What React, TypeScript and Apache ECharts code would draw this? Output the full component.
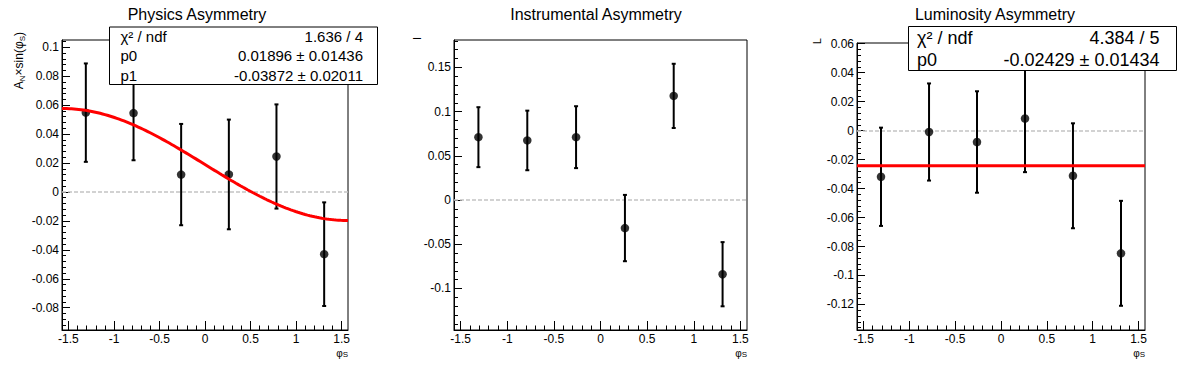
import React, { useEffect, useRef } from "react";
import * as echarts from "echarts";

const FONT = "'Liberation Sans', Arial, Helvetica, sans-serif";
const HALF_PI = Math.PI / 2;

// bin centres in phi_S
const phiCenters = [-1.309, -0.785, -0.262, 0.262, 0.785, 1.309];

// Physics asymmetry
const physicsY = [0.0548, 0.0545, 0.012, 0.0121, 0.0245, -0.043];
const physicsErr = [0.034, 0.0326, 0.035, 0.0379, 0.036, 0.0358];
// Instrumental asymmetry
const instrY = [0.0711, 0.0674, 0.0711, -0.0317, 0.1178, -0.0839];
const instrErr = [0.0339, 0.0337, 0.035, 0.0375, 0.0363, 0.0363];
// Luminosity asymmetry
const lumiY = [-0.0319, -0.001, -0.0079, 0.0083, -0.0312, -0.0847];
const lumiErr = [0.0339, 0.0335, 0.035, 0.037, 0.0362, 0.0362];

// fit parameters (from the stat boxes)
const physicsP0 = 0.01896;
const physicsP1 = -0.03872;
const lumiP0 = -0.02429;

// tick labels
const xTicks = [-1.5, -1, -0.5, 0, 0.5, 1, 1.5];
const physicsYTicks = [-0.08, -0.06, -0.04, -0.02, 0, 0.02, 0.04, 0.06, 0.08, 0.1];
const instrYTicks = [-0.1, -0.05, 0, 0.05, 0.1, 0.15];
const lumiYTicks = [-0.12, -0.1, -0.08, -0.06, -0.04, -0.02, 0, 0.02, 0.04, 0.06];

// axis ranges
const physicsRange = [-0.0954, 0.105];
const instrRange = [-0.147, 0.181];
const lumiRange = [-0.1376, 0.0604];

function minors(majors: number[], n: number, lo: number, hi: number): number[] {
  const step = (majors[1] - majors[0]) / n;
  const out: number[] = [];
  for (let k = -200; k <= 400; k++) {
    if (k % n === 0) continue;
    const v = Math.round((majors[0] + k * step) * 1e9) / 1e9;
    if (v > lo && v < hi) out.push(v);
  }
  return out;
}

const grids = [
  { left: 62, top: 40, width: 286, height: 290 },
  { left: 454, top: 40, width: 293, height: 290 },
  { left: 857, top: 43, width: 288, height: 287 },
];

function buildOption() {
  const xAxis: any[] = [];
  const yAxis: any[] = [];
  const series: any[] = [];
  const panels = [
    { y: physicsY, e: physicsErr, range: physicsRange, ticks: physicsYTicks },
    { y: instrY, e: instrErr, range: instrRange, ticks: instrYTicks },
    { y: lumiY, e: lumiErr, range: lumiRange, ticks: lumiYTicks },
  ];
  const xMinor = minors(xTicks, 5, -HALF_PI, HALF_PI);

  panels.forEach((p, i) => {
    const yMinor = minors(p.ticks, 5, p.range[0], p.range[1]);
    xAxis.push({
      type: "value", gridIndex: i, position: "bottom", min: -HALF_PI, max: HALF_PI,
      axisLine: { show: true, onZero: false, lineStyle: { color: "#000", width: 1 } },
      axisTick: { show: true, inside: true, length: 9, customValues: xTicks, lineStyle: { color: "#000", width: 1 } },
      axisLabel: { show: true, customValues: xTicks, margin: 3, color: "#000", fontSize: 12, fontFamily: FONT },
      splitLine: { show: false },
    });
    xAxis.push({
      type: "value", gridIndex: i, position: "bottom", min: -HALF_PI, max: HALF_PI,
      axisLine: { show: false, onZero: false },
      axisTick: { show: true, inside: true, length: 4.5, customValues: xMinor, lineStyle: { color: "#000", width: 1 } },
      axisLabel: { show: false },
      splitLine: { show: false },
    });
    yAxis.push({
      type: "value", gridIndex: i, position: "left", min: p.range[0], max: p.range[1],
      axisLine: { show: true, onZero: false, lineStyle: { color: "#000", width: 1 } },
      axisTick: { show: true, inside: true, length: 8, customValues: p.ticks, lineStyle: { color: "#000", width: 1 } },
      axisLabel: { show: true, customValues: p.ticks, margin: 3, color: "#000", fontSize: 12, fontFamily: FONT },
      splitLine: { show: false },
    });
    yAxis.push({
      type: "value", gridIndex: i, position: "left", min: p.range[0], max: p.range[1],
      axisLine: { show: false, onZero: false },
      axisTick: { show: true, inside: true, length: 4, customValues: yMinor, lineStyle: { color: "#000", width: 1 } },
      axisLabel: { show: false },
      splitLine: { show: false },
    });

    const errData = phiCenters.map((x, k) => [x, p.y[k] - p.e[k], p.y[k] + p.e[k]]);
    series.push({
      type: "custom",
      xAxisIndex: 2 * i, yAxisIndex: 2 * i,
      z: 3,
      encode: { x: 0, y: [1, 2] },
      data: errData,
      renderItem: (params: any, api: any) => {
        const x = api.value(0);
        const lo = api.coord([x, api.value(1)]);
        const hi = api.coord([x, api.value(2)]);
        const cw = 2;
        const st = { stroke: "#000", lineWidth: 2 };
        return {
          type: "group",
          children: [
            { type: "line", shape: { x1: lo[0], y1: lo[1], x2: hi[0], y2: hi[1] }, style: st },
            { type: "line", shape: { x1: lo[0] - cw, y1: lo[1], x2: lo[0] + cw, y2: lo[1] }, style: st },
            { type: "line", shape: { x1: hi[0] - cw, y1: hi[1], x2: hi[0] + cw, y2: hi[1] }, style: st },
          ],
        };
      },
      markLine: {
        silent: true,
        symbol: ["none", "none"],
        label: { show: false },
        lineStyle: { color: "#c4c4c4", width: 1.5, type: [4, 2] },
        data: [{ yAxis: 0 }],
        z: 1,
      },
    });
    series.push({
      type: "scatter",
      xAxisIndex: 2 * i, yAxisIndex: 2 * i,
      z: 4,
      symbol: "circle",
      symbolSize: 8.5,
      itemStyle: { color: "#000" },
      data: phiCenters.map((x, k) => [x, p.y[k]]),
    });
  });

  // fit curves
  const nS = 120;
  const curve: number[][] = [];
  for (let k = 0; k <= nS; k++) {
    const x = -HALF_PI + (Math.PI * k) / nS;
    curve.push([x, physicsP0 + physicsP1 * Math.sin(x)]);
  }
  series.push({
    type: "line", xAxisIndex: 0, yAxisIndex: 0, z: 5, showSymbol: false, symbol: "none",
    lineStyle: { color: "#ff0000", width: 3 }, data: curve,
  });
  series.push({
    type: "line", xAxisIndex: 4, yAxisIndex: 4, z: 5, showSymbol: false, symbol: "none",
    lineStyle: { color: "#ff0000", width: 3 }, data: [[-HALF_PI, lumiP0], [HALF_PI, lumiP0]],
  });

  const txt = (text: string, x: number, y: number, size: number, align = "left", extra: any = {}) => ({
    type: "text", z: 100,
    style: {
      text, x, y, fill: "#000", fontSize: size, fontFamily: FONT,
      align, textAlign: align, verticalAlign: "middle", textVerticalAlign: "middle", ...extra,
    },
  });

  const subRich = (size: number, subSize: number, lh: number) => ({
    m: { fontSize: size, fontFamily: FONT, fill: "#000", color: "#000", lineHeight: lh },
    s: { fontSize: subSize, fontFamily: FONT, fill: "#000", color: "#000", verticalAlign: "bottom", lineHeight: subSize },
  });

  const graphic: any[] = [
    txt("Physics Asymmetry", 197, 14.5, 16, "center"),
    txt("Instrumental Asymmetry", 596, 14.5, 16, "center"),
    txt("Luminosity Asymmetry", 995, 14.5, 16, "center"),
    // stat box 1
    { type: "rect", z: 99, shape: { x: 109.5, y: 27, width: 268, height: 57.5 }, style: { fill: "#fff", stroke: "#000", lineWidth: 1 } },
    txt("χ² / ndf", 120.5, 36.6, 15),
    txt("1.636 / 4", 363, 36.6, 15, "right"),
    txt("p0", 120.5, 55.8, 15),
    txt("0.01896 ± 0.01436", 363, 55.8, 15, "right"),
    txt("p1", 120.5, 75, 15),
    txt("-0.03872 ± 0.02011", 363, 75, 15, "right"),
    // stat box 3
    { type: "rect", z: 99, shape: { x: 908.5, y: 26.5, width: 268, height: 44 }, style: { fill: "#fff", stroke: "#000", lineWidth: 1 } },
    txt("χ² / ndf", 917, 37.5, 18),
    txt("4.384 / 5", 1159.5, 37.5, 18, "right"),
    txt("p0", 917, 59.5, 18),
    txt("-0.02429 ± 0.01434", 1159.5, 59.5, 18, "right"),
    // y axis titles
    {
      type: "text", z: 100, x: 18.5, y: 32, rotation: Math.PI / 2,
      style: { text: "{m|A}{s|N}{m|×sin(φ}{s|S}{m|)}", x: 0, y: 0, align: "right", textAlign: "right", verticalAlign: "middle", textVerticalAlign: "middle", rich: subRich(12, 8, 15) },
    },
    {
      type: "text", z: 100, x: 417, y: 37, rotation: Math.PI / 2,
      style: { text: "I", x: 0, y: 0, fill: "#000", fontSize: 11, fontFamily: FONT, align: "right", textAlign: "right", verticalAlign: "middle", textVerticalAlign: "middle" },
    },
    {
      type: "text", z: 100, x: 817, y: 38, rotation: Math.PI / 2,
      style: { text: "L", x: 0, y: 0, fill: "#000", fontSize: 11, fontFamily: FONT, align: "right", textAlign: "right", verticalAlign: "middle", textVerticalAlign: "middle" },
    },
  ];
  // x axis titles
  [348, 747, 1145].forEach((xr) => {
    graphic.push({
      type: "text", z: 100, x: xr, y: 353,
      style: { text: "{m|φ}{s|S}", x: 0, y: 0, align: "right", textAlign: "right", verticalAlign: "middle", textVerticalAlign: "middle", rich: subRich(10, 8, 11) },
    });
  });

  return {
    animation: false,
    backgroundColor: "#fff",
    textStyle: { fontFamily: FONT },
    grid: grids.map((g) => ({
      ...g, show: true, borderColor: "#000", borderWidth: 1, backgroundColor: "transparent",
      containLabel: false, outerBoundsMode: "none",
    })),
    xAxis, yAxis, series, graphic,
  };
}

export default function App() {
  const ref = useRef<HTMLDivElement>(null);
  useEffect(() => {
    if (!ref.current) return;
    const chart = echarts.init(ref.current, null, { renderer: "svg" });
    chart.setOption(buildOption() as any);
    return () => chart.dispose();
  }, []);
  return (
    <div
      ref={ref}
      style={{ position: "absolute", left: 0, top: 0, width: 1196, height: 372, background: "#fff" }}
    />
  );
}
